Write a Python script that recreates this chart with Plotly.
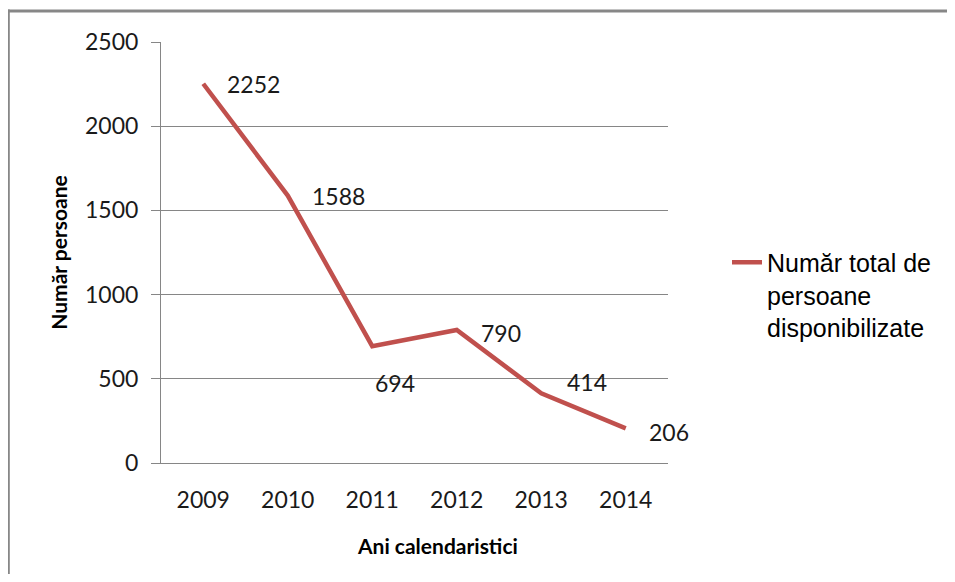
import plotly.graph_objects as go

years = ["2009", "2010", "2011", "2012", "2013", "2014"]
values = [2252, 1588, 694, 790, 414, 206]
series_name = "Număr total de<br>persoane<br>disponibilizate"
y_ticks = [0, 500, 1000, 1500, 2000, 2500]

# label placement per point: (xanchor, xshift, yshift)
label_pos = [("left", 22, 0), ("left", 22, 0), ("center", 23, -37),
             ("left", 22, -3), ("left", 24, 11), ("left", 21, -4)]

# page body has an 8px margin; figure is placed at (8, 8) in the window
OFF = 8
W, H = 955 - 2 * OFF, 582 - 2 * OFF
PL, PR, PT, PB = 161, 669, 42, 463  # plot area in window pixels
L, T = PL - OFF, PT - OFF
R, B = W - (PR - OFF), H - (PB - OFF)
pw, ph = PR - PL, PB - PT

def px(xpix):
    return (xpix - PL) / pw

def py(ypix):
    return (PB - ypix) / ph

fig = go.Figure()
fig.add_trace(go.Scatter(
    x=years, y=values, mode="lines", name=series_name,
    line=dict(color="#C0504D", width=4.5),
))

annotations = []
for i, (v, (xa, xs, ys)) in enumerate(zip(values, label_pos)):
    annotations.append(dict(
        x=i, y=v, xref="x", yref="y", text=str(v), showarrow=False,
        xanchor=xa, yanchor="middle", xshift=xs, yshift=ys,
        font=dict(family="Lato", size=23, color="#1a1a1a"),
    ))

annotations.append(dict(
    x=px(438), y=py(545), xref="paper", yref="paper",
    text="<b>Ani calendaristici</b>", showarrow=False,
    xanchor="center", yanchor="middle",
    font=dict(family="Lato", size=21, color="#000000"),
))
annotations.append(dict(
    x=px(58), y=0.5, xref="paper", yref="paper",
    text="<b>Număr persoane</b>", showarrow=False, textangle=-90,
    xanchor="center", yanchor="middle",
    font=dict(family="Lato", size=21, color="#000000"),
))

border = dict(color="#878787", width=3)
fig.update_layout(
    width=W, height=H,
    margin=dict(l=L, r=R, t=T, b=B, pad=0),
    paper_bgcolor="white", plot_bgcolor="white",
    showlegend=True,
    legend=dict(
        x=px(727), y=py(295), xanchor="left", yanchor="middle",
        valign="top",
        font=dict(family="Liberation Sans", size=25, color="#000000"),
        bgcolor="rgba(0,0,0,0)", tracegroupgap=0,
    ),
    annotations=annotations,
    shapes=[
        dict(type="line", xref="paper", yref="paper",
             x0=px(6.5), x1=px(1000), y0=py(11), y1=py(11), line=border),
        dict(type="line", xref="paper", yref="paper",
             x0=px(8), x1=px(8), y0=py(9.5), y1=py(620), line=border),
    ],
)

fig.update_xaxes(
    type="category", range=[-0.5, 5.5],
    showline=True, linecolor="#868686", linewidth=1,
    ticks="", showgrid=False,
    tickfont=dict(family="Lato", size=23, color="#1a1a1a"),
    ticklabelstandoff=16,
)
fig.update_yaxes(
    range=[0, 2500], tickvals=y_ticks,
    showline=True, linecolor="#868686", linewidth=1,
    showgrid=True, gridcolor="#868686", gridwidth=1,
    ticks="outside", ticklen=9, tickcolor="#868686",
    tickfont=dict(family="Lato", size=23, color="#1a1a1a"),
    ticklabelstandoff=8, zeroline=False,
)

fig.write_html("out.html")
